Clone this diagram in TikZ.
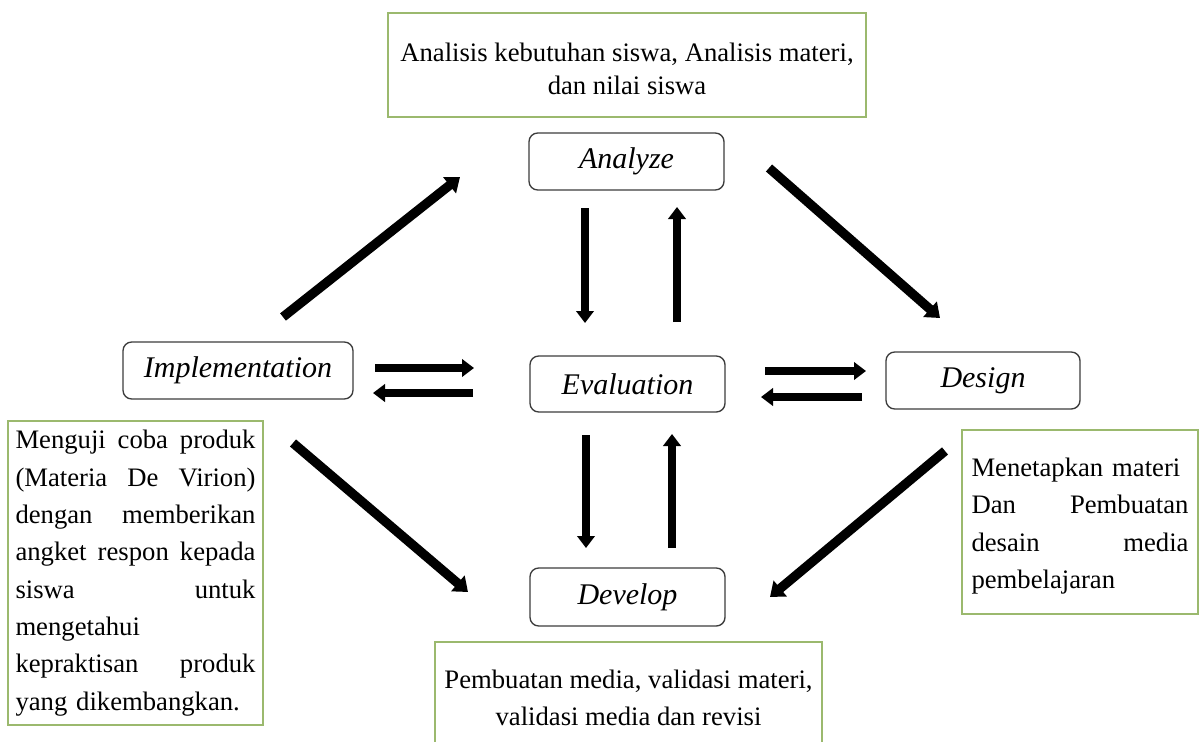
\documentclass[tikz,border=0pt]{standalone}
\usepackage{fontspec}
\setmainfont{Liberation Serif}
\usetikzlibrary{arrows.meta}
\definecolor{gline}{RGB}{155,185,110}
\definecolor{bline}{RGB}{60,60,60}
\newcommand\jl[1]{\leavevmode\hbox to\linewidth{#1}}
\begin{document}
\begin{tikzpicture}[x=0.75pt,y=-0.75pt,
  lbl/.style={draw=bline, line width=1pt, rounded corners=6.5pt, fill=white,
    font=\fontsize{22.5pt}{27pt}\selectfont\itshape, minimum height=42.75pt, inner sep=0pt},
  gbox/.style={draw=gline, line width=0.9pt, fill=white, font=\fontsize{20pt}{28pt}\selectfont, inner sep=0pt},
  txt/.style={inner sep=0pt, font=\fontsize{20pt}{28pt}\selectfont},
  arr/.style={line width=6pt, -{Triangle[length=9pt,width=13pt]}},
  darr/.style={line width=7pt, -{Triangle[length=10pt,width=15pt]}}]
\useasboundingbox (0,0) rectangle (1203,742);
\fill[white] (0,0) rectangle (1203,742);
\begin{scope}
\clip (0,0) rectangle (1203,742);
% green text boxes
\node[gbox, minimum width=358.5pt, minimum height=78pt] (tbox) at (627,65) {};
\node[txt, align=center, font=\fontsize{20pt}{24.75pt}\selectfont] (tboxt) at (627,69)
  {Analisis kebutuhan siswa, Analisis materi,\\ dan nilai siswa};
\node[gbox, minimum width=290.25pt, minimum height=83.25pt, align=center,
  font=\fontsize{20pt}{27.75pt}\selectfont] (bbox) at (628.5,697.5)
  {Pembuatan media, validasi materi,\\ validasi media dan revisi};
\node[gbox, text width=180pt, inner xsep=5.6pt, minimum height=228pt, align=left] (lbox) at (135.5,573)
  {\jl{Menguji\hfill coba\hfill produk}\\
   \jl{(Materia\hfill De\hfill Virion)}\\
   \jl{dengan\hfill memberikan}\\
   \jl{angket\hfill respon\hfill kepada}\\
   \jl{siswa\hfill untuk}\\
   mengetahui\\
   \jl{kepraktisan\hfill produk}\\
   yang dikembangkan.};
\node[gbox, minimum width=177pt, minimum height=138pt] (rbox) at (1080,522) {};
\node[txt, text width=162.75pt, align=left] (rboxt) at (1080,526)
  {Menetapkan materi\\
   \jl{Dan\hfill Pembuatan}\\
   \jl{desain\hfill media}\\
   pembelajaran};
% phase boxes
\node[lbl, minimum width=146.25pt] (an) at (626.5,161.5) {Analyze};
\node[lbl, minimum width=172.5pt] (im) at (238,370.5) {Implementation};
\node[lbl, minimum width=146.25pt, minimum height=42pt] (ev) at (627.5,384) {Evaluation};
\node[lbl, minimum width=145.5pt] (de) at (983,380.5) {Design};
\node[lbl, minimum width=146.25pt, minimum height=43.5pt] (dv) at (627.5,597) {Develop};
% arrow end points
\coordinate (a1s) at (283,317); \coordinate (a1e) at (460,177);
\coordinate (a2s) at (769,168); \coordinate (a2e) at (940,318);
\coordinate (a3s) at (293,443); \coordinate (a3e) at (468,592);
\coordinate (a4s) at (945,451); \coordinate (a4e) at (770,597);
\coordinate (v1s) at (585,208); \coordinate (v1e) at (585,323);
\coordinate (v2s) at (677,322); \coordinate (v2e) at (677,207);
\coordinate (v3s) at (586,435); \coordinate (v3e) at (586,548);
\coordinate (v4s) at (672,548); \coordinate (v4e) at (672,434);
\coordinate (h1s) at (375,368); \coordinate (h1e) at (474,368);
\coordinate (h2s) at (473,393); \coordinate (h2e) at (373,393);
\coordinate (h3s) at (765,371); \coordinate (h3e) at (866,371);
\coordinate (h4s) at (862,397); \coordinate (h4e) at (761,397);
\draw[darr] (a1s) -- (a1e);
\draw[darr] (a2s) -- (a2e);
\draw[darr] (a3s) -- (a3e);
\draw[darr] (a4s) -- (a4e);
\draw[arr] (v1s) -- (v1e);
\draw[arr] (v2s) -- (v2e);
\draw[arr] (v3s) -- (v3e);
\draw[arr] (v4s) -- (v4e);
\draw[arr] (h1s) -- (h1e);
\draw[arr] (h2s) -- (h2e);
\draw[arr] (h3s) -- (h3e);
\draw[arr] (h4s) -- (h4e);
\end{scope}
\end{tikzpicture}
\end{document}
